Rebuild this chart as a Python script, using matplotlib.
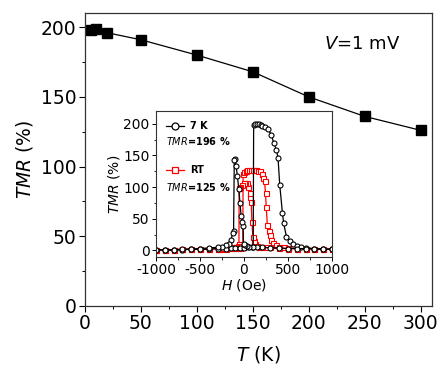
import numpy as np
import matplotlib
matplotlib.use("Agg")
import matplotlib.pyplot as plt
from matplotlib.ticker import MultipleLocator

plt.rcParams["font.family"] = "DejaVu Sans"
plt.rcParams["axes.unicode_minus"] = False

# main panel: TMR vs temperature at V = 1 mV
T = [5, 10, 20, 50, 100, 150, 200, 250, 300]
TMR_T = [198, 199, 196, 191, 180, 168, 150, 136, 126]

# inset: TMR loops, 7 K
k7_up_H = [-1000, -900, -800, -700, -600, -500, -400, -300, -200, -150, -100, -50, 0, 50, 90, 105,
           110, 130, 150, 170, 190, 210, 240, 272, 311, 337, 368, 387, 406, 437, 451, 482, 520,
           560, 600, 650, 700, 800, 900, 1000]
k7_up_R = [1, 1, 1, 1, 2, 2, 2, 3, 3, 4, 4, 4, 4, 5, 5, 6,
           198, 199, 199, 199, 198, 197, 195, 191, 183, 170, 159, 146, 104, 59, 43, 22, 15,
           10, 7, 5, 4, 3, 2, 2]
k7_dn_H = [1000, 900, 800, 700, 600, 500, 400, 300, 200, 150, 100, 60, 30, 10, -5, -10, -20, -32,
           -45, -59, -75, -89, -100, -110, -118, -128, -150, -175, -200, -250, -300, -400, -500,
           -600, -700, -800, -900, -1000]
k7_dn_R = [2, 2, 3, 3, 3, 3, 4, 4, 5, 5, 6, 6, 7, 8, 10, 38, 45, 54,
           75, 97, 118, 133, 144, 143, 30, 27, 16, 10, 8, 6, 5, 4, 3,
           2, 2, 1, 1, 1]

# inset: TMR loops, room temperature
rt_up_H = [-1000, -900, -800, -700, -600, -500, -400, -300, -250, -200, -150, -100, -75, -50, -30,
           -20, -13, -10, 0, 20, 40, 60, 80, 100, 120, 140, 160, 180, 200, 220, 234, 245, 253,
           265, 280, 291, 310, 330, 360, 400, 450, 500, 600, 700, 800, 900, 1000]
rt_up_R = [1, 1, 1, 2, 2, 2, 2, 3, 3, 3, 4, 4, 4, 4, 5,
           5, 6, 120, 124, 126, 127, 127, 127, 127, 127, 127, 126, 125, 121, 115, 109, 90, 69,
           41, 30, 25, 16, 12, 8, 6, 5, 4, 3, 3, 2, 2, 2]
rt_dn_H = [1000, 900, 800, 700, 600, 500, 400, 300, 250, 200, 170, 150, 130, 120, 110, 101, 90,
           82, 72, 63, 45, 30, 15, 0, -20, -40, -55, -57, -70, -85, -100, -125, -150, -200, -250,
           -300, -400, -500, -600, -700, -800, -900, -1000]
rt_dn_R = [2, 2, 2, 3, 3, 3, 4, 5, 5, 6, 6, 7, 8, 10, 15, 22, 45,
           77, 85, 91, 100, 106, 107, 106, 104, 100, 98, 10, 7, 6, 6, 5, 5, 4, 4,
           3, 3, 2, 2, 2, 1, 1, 1]

fig = plt.figure(figsize=(4.38, 3.69), dpi=100)
ax = fig.add_axes([0.194, 0.171, 0.792, 0.793])
ax.plot(T, TMR_T, color="black", lw=0.9, marker="s", ms=7.5, mec="black", mfc="black")
ax.set_xlim(0, 310)
ax.set_ylim(0, 210)
ax.xaxis.set_major_locator(MultipleLocator(50))
ax.xaxis.set_minor_locator(MultipleLocator(25))
ax.yaxis.set_major_locator(MultipleLocator(50))
ax.yaxis.set_minor_locator(MultipleLocator(25))
ax.tick_params(which="major", direction="out", length=4, width=0.8, labelsize=13.5, pad=2)
ax.tick_params(which="minor", direction="out", length=2.5, width=0.7)
ax.set_xlabel(r"$\it{T}$ (K)", fontsize=13.5, labelpad=8)
ax.set_ylabel(r"$\it{TMR}$ (%)", fontsize=13.5, labelpad=4)
for s in ax.spines.values():
    s.set_linewidth(0.9)
    s.set_color("#333333")
ax.text(0.91, 0.895, r"$\it{V}$=1 mV", transform=ax.transAxes, fontsize=13, ha="right", va="center")

ins = fig.add_axes([0.356, 0.304, 0.402, 0.395])
ms_in = 3.6
ins.plot(rt_up_H, rt_up_R, color="red", lw=0.9, marker="s", ms=ms_in, mfc="white", mec="red", mew=0.8)
ins.plot(rt_dn_H, rt_dn_R, color="red", lw=0.9, marker="s", ms=ms_in, mfc="white", mec="red", mew=0.8)
ins.plot(k7_up_H, k7_up_R, color="black", lw=0.9, marker="o", ms=ms_in, mfc="white", mec="black", mew=0.8)
ins.plot(k7_dn_H, k7_dn_R, color="black", lw=0.9, marker="o", ms=ms_in, mfc="white", mec="black", mew=0.8)
ins.set_xlim(-1000, 1000)
ins.set_ylim(-10, 220)
ins.xaxis.set_major_locator(MultipleLocator(500))
ins.xaxis.set_minor_locator(MultipleLocator(250))
ins.yaxis.set_major_locator(MultipleLocator(50))
ins.yaxis.set_minor_locator(MultipleLocator(25))
ins.tick_params(which="major", direction="out", length=3, width=0.7, labelsize=10, pad=1.5)
ins.tick_params(which="minor", direction="out", length=1.8, width=0.6)
ins.set_xlabel(r"$\it{H}$ (Oe)", fontsize=10, labelpad=0)
ins.set_ylabel(r"$\it{TMR}$ (%)", fontsize=10, labelpad=1)
for s in ins.spines.values():
    s.set_linewidth(0.8)
    s.set_color("#333333")

# legend drawn by hand inside the inset
ins.plot([-890, -680], [197, 197], color="black", lw=0.9)
ins.plot([-785], [197], marker="o", ms=5, mfc="white", mec="black", mew=0.9)
ins.text(-610, 197, "7 K", fontsize=7, fontweight="bold", va="center")
ins.text(-880, 172, r"$\bf{\it{TMR}}$=196 %", fontsize=7, fontweight="bold", va="center")
ins.plot([-890, -680], [127, 127], color="red", lw=0.9)
ins.plot([-785], [127], marker="s", ms=5, mfc="white", mec="red", mew=0.9)
ins.text(-610, 127, "RT", fontsize=7, fontweight="bold", va="center")
ins.text(-880, 100, r"$\bf{\it{TMR}}$=125 %", fontsize=7, fontweight="bold", va="center")

fig.savefig("out.png", dpi=100)
